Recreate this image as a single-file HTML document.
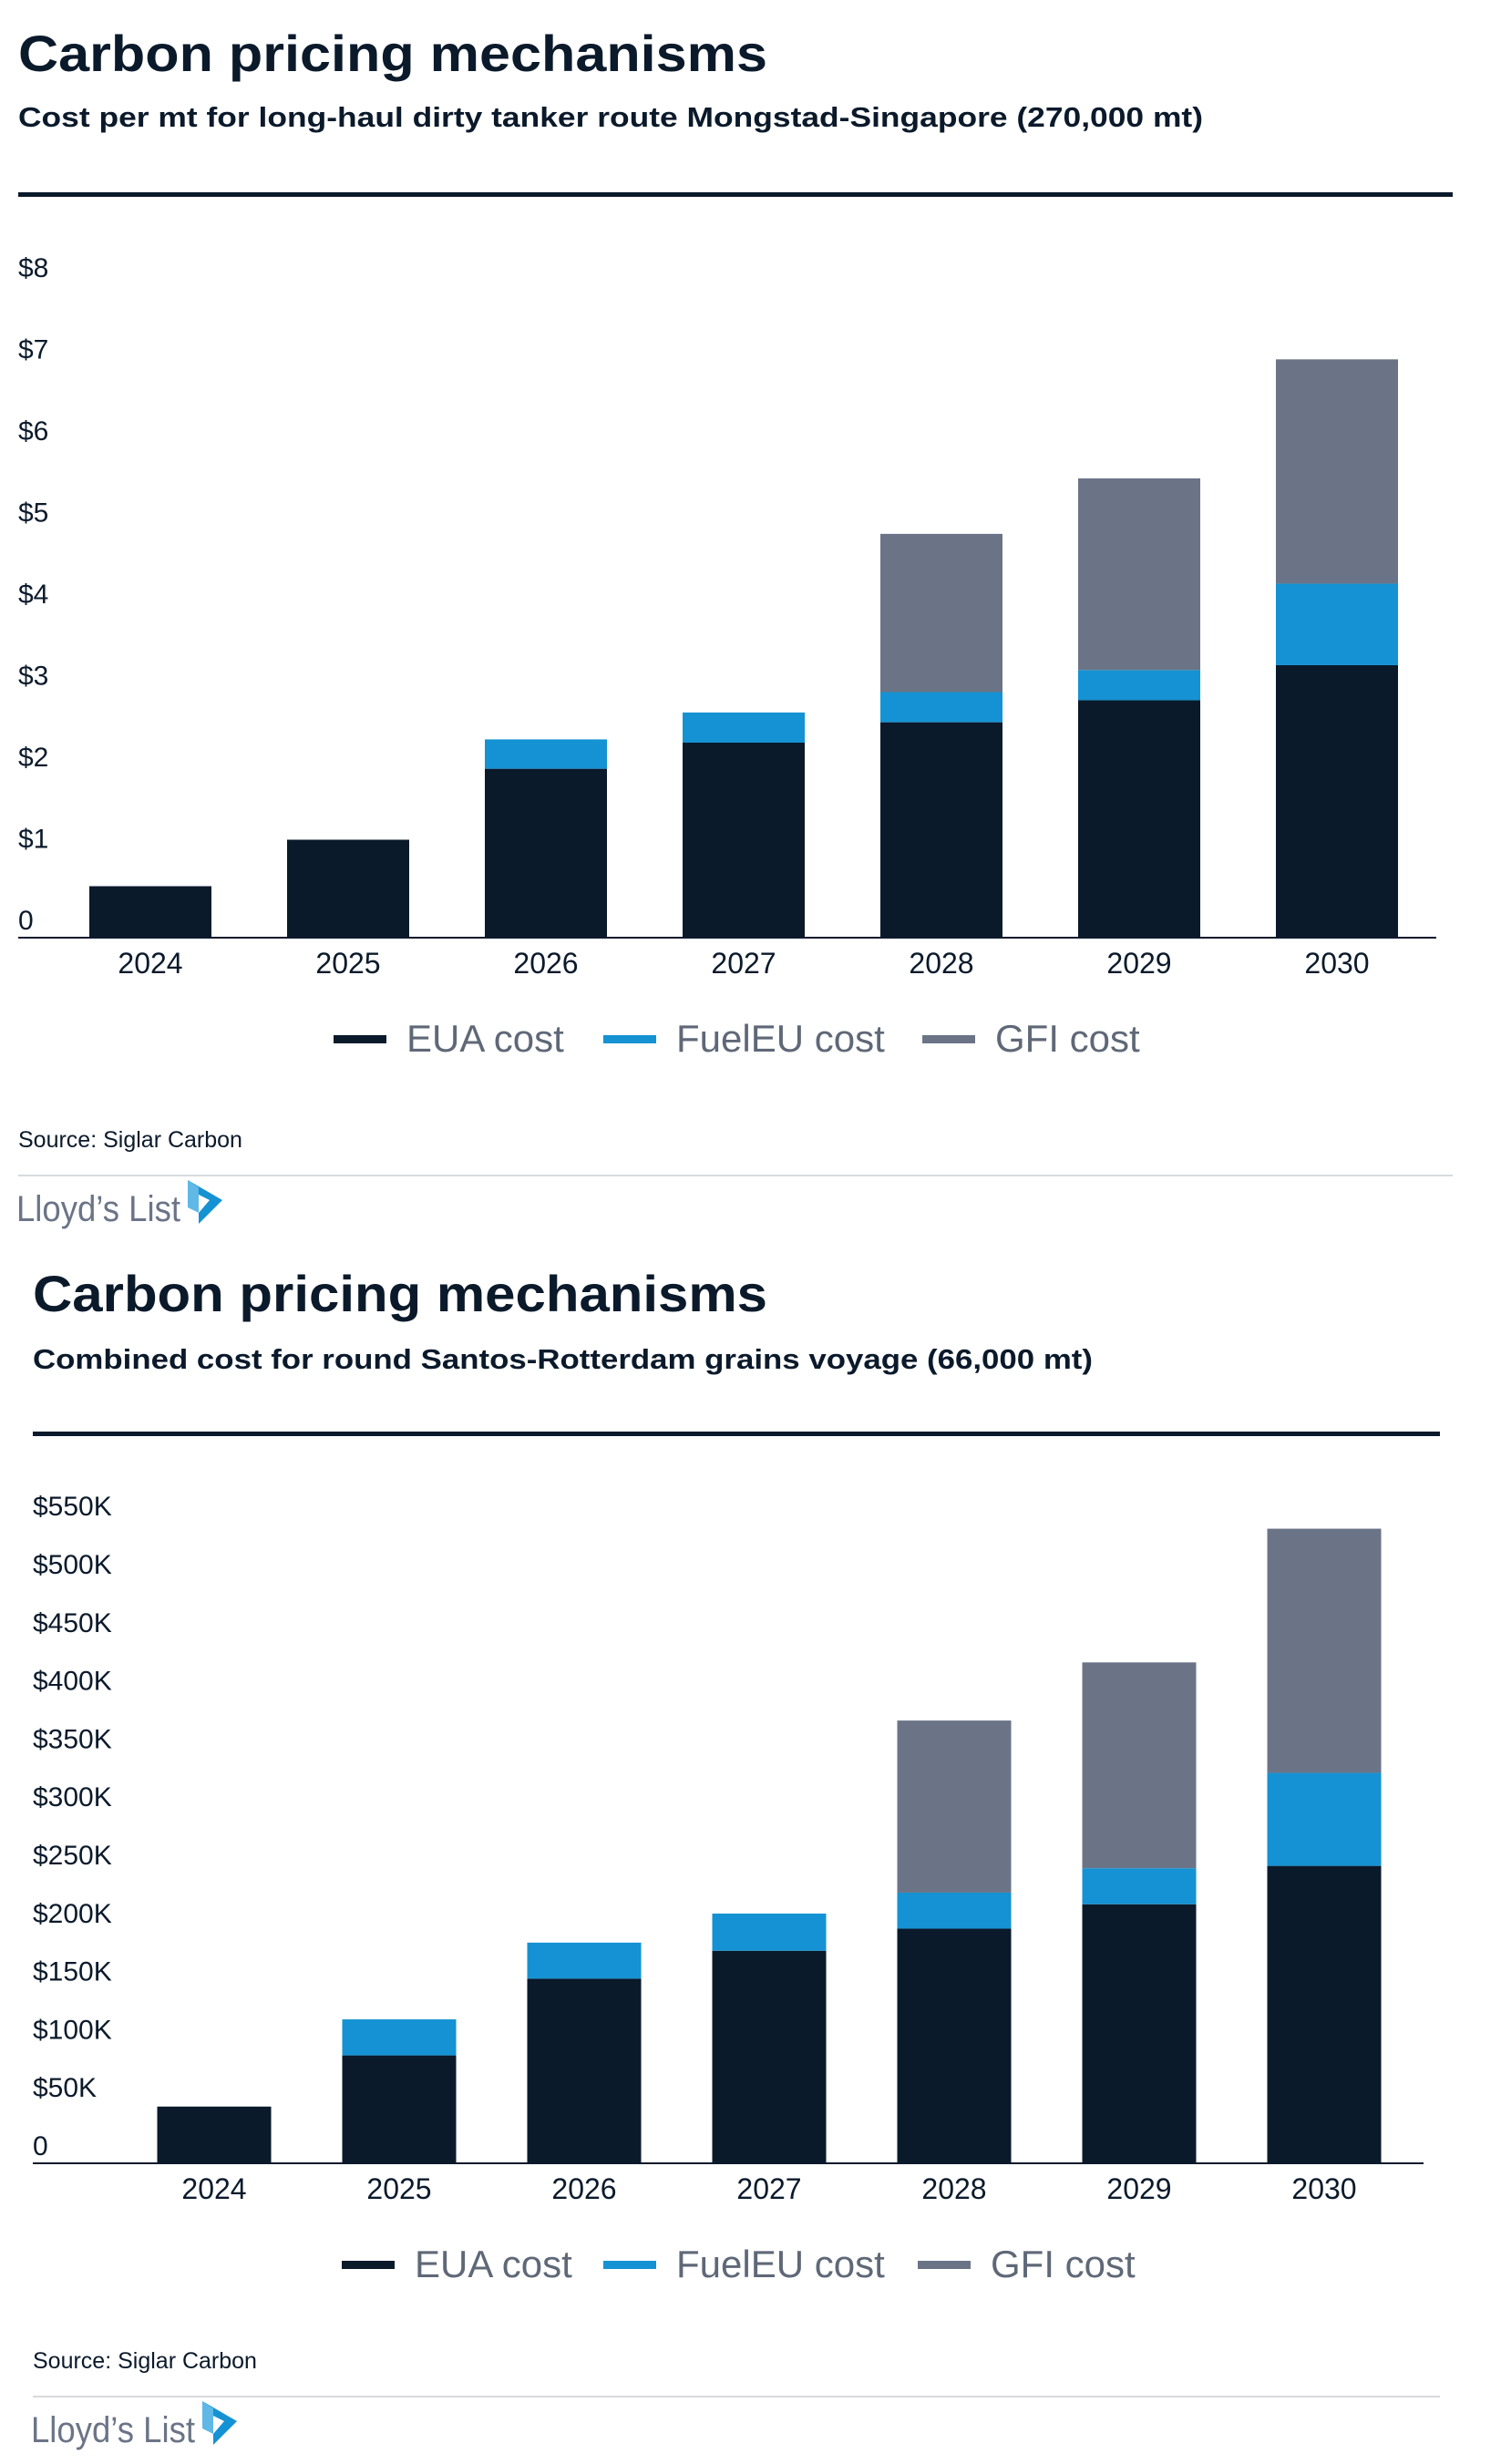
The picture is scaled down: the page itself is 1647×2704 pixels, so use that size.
<!DOCTYPE html>
<html><head><meta charset="utf-8"><style>
html,body{margin:0;padding:0;background:#fff;}
svg{display:block;font-family:"Liberation Sans",sans-serif;}
</style></head><body>
<svg id="page" width="1647" height="2704" viewBox="0 0 1647 2704" xmlns="http://www.w3.org/2000/svg">
<g id="c1"></g>
<g id="c2"></g>
</svg>
<script>
const categories = ['2024','2025','2026','2027','2028','2029','2030'];
const tankerEUA = [0.62,1.19,2.06,2.38,2.63,2.90,3.33];
const tankerFuel = [0,0,0.36,0.37,0.37,0.37,1.00];
const tankerGFI = [0,0,0,0,1.94,2.35,2.75];
const tankerTicks = [0,1,2,3,4,5,6,7,8];
const tankerTickLabels = ['0','$1','$2','$3','$4','$5','$6','$7','$8'];
const grainsEUA = [48,92,158,182,201,222,255];
const grainsFuel = [0,31,31,32,31,31,80];
const grainsGFI = [0,0,0,0,148,177,210];
const grainsTicks = [0,50,100,150,200,250,300,350,400,450,500,550];
const grainsTickLabels = ['0','$50K','$100K','$150K','$200K','$250K','$300K','$350K','$400K','$450K','$500K','$550K'];
const seriesNames = ['EUA cost','FuelEU cost','GFI cost'];
const colors = ['#0a1a2b','#1592d3','#6b7487'];
const NS='http://www.w3.org/2000/svg';
function mk(parent,tag,attrs,text){const e=document.createElementNS(NS,tag);for(const k in attrs)e.setAttribute(k,attrs[k]);if(text!==undefined)e.textContent=text;parent.appendChild(e);return e;}

function drawChart(g,cfg){
  let t=mk(g,'text',{x:cfg.x0,y:cfg.titleY,'font-size':56,'font-weight':'bold',fill:'#0b1a2b',textLength:cfg.titleW,lengthAdjust:'spacingAndGlyphs'},cfg.title);
  
  
  t=mk(g,'text',{x:cfg.x0,y:cfg.subY,'font-size':31,'font-weight':'bold',fill:'#0b1a2b',textLength:cfg.subW,lengthAdjust:'spacingAndGlyphs'},cfg.sub);
  
  
  let r=mk(g,'rect',{x:cfg.x0,y:cfg.ruleY,width:cfg.ruleW,height:5,fill:'#0b1a2b'});
  
  
  const yS=v=>cfg.axisY-v*cfg.unit;
  const xC=i=>cfg.c0+i*cfg.step;
  cfg.ticks.forEach((v,i)=>{
    const tl=mk(g,'text',{x:cfg.x0,y:yS(v)-8,'font-size':cfg.tickFs,fill:'#0b1a2b'},cfg.tickLabels[i]);
    
    
  });
  const sers=[cfg.eua,cfg.fuel,cfg.gfi];
  categories.forEach((c,i)=>{
    let base=0;
    sers.forEach((s,k)=>{
      const v=s[i]; if(!v) return;
      const b=mk(g,'rect',{x:xC(i)-cfg.bw/2,y:yS(base+v),width:cfg.bw,height:v*cfg.unit,fill:colors[k]});
      
      
      base+=v;
    });
    const xl=mk(g,'text',{x:xC(i),y:cfg.axisY+40,'font-size':32,fill:'#0b1a2b','text-anchor':'middle'},c);
    
    
  });
  const ax=mk(g,'rect',{x:cfg.x0,y:cfg.axisY,width:cfg.axisW,height:2,fill:'#0b1a2b'});
  
  
  const lx=cfg.legX;
  seriesNames.forEach((n,k)=>{
    const lg=mk(g,'g',{});
    
    
    mk(lg,'rect',{x:lx[k],y:cfg.legY-4,width:58,height:9,fill:colors[k]});
    mk(lg,'text',{x:lx[k]+80,y:cfg.legY+14,'font-size':42,fill:'#5f6877'},n);
  });
  t=mk(g,'text',{x:cfg.x0,y:cfg.srcY,'font-size':25,fill:'#0b1a2b'},'Source: Siglar Carbon');
  
  
  r=mk(g,'rect',{x:cfg.x0,y:cfg.srcY+30,width:cfg.ruleW,height:2,fill:'#d8dadd'});
  
  
  const lo=mk(g,'g',{});
  
  
  mk(lo,'text',{x:cfg.x0-2,y:cfg.srcY+81,'font-size':40,fill:'#6b7487',textLength:180,lengthAdjust:'spacingAndGlyphs'},'Lloyd\u2019s List');
  const px=cfg.x0+186, py=cfg.srcY+36;
  mk(lo,'polygon',{points:`${px},${py} ${px+38},${py+22} ${px+12},${py+48} ${px+12},${py+36} ${px+24},${py+22} ${px},${py+10}`,fill:'#1592d3'});
  mk(lo,'polygon',{points:`${px},${py} ${px+12},${py+8} ${px+12},${py+36} ${px},${py+30}`,fill:'#5fb8e6'});
}
drawChart(document.getElementById('c1'),{x0:20,title:'Carbon pricing mechanisms',titleY:78,titleW:822,
  sub:'Cost per mt for long-haul dirty tanker route Mongstad-Singapore (270,000 mt)',subY:139,subW:1300,
  ruleY:211,ruleW:1574,axisY:1028,axisW:1556,unit:89.5,c0:165,step:217,bw:134,tickFs:30,
  ticks:tankerTicks,tickLabels:tankerTickLabels,eua:tankerEUA,fuel:tankerFuel,gfi:tankerGFI,
  legX:[366,662,1012],legY:1140,srcY:1259});
drawChart(document.getElementById('c2'),{x0:36,title:'Carbon pricing mechanisms',titleY:1439,titleW:806,
  sub:'Combined cost for round Santos-Rotterdam grains voyage (66,000 mt)',subY:1502,subW:1163,
  ruleY:1571,ruleW:1544,axisY:2373,axisW:1526,unit:1.276,c0:235,step:203,bw:125,tickFs:30,
  ticks:grainsTicks,tickLabels:grainsTickLabels,eua:grainsEUA,fuel:grainsFuel,gfi:grainsGFI,
  legX:[375,662,1007],legY:2485,srcY:2599});
</script>
</body></html>
